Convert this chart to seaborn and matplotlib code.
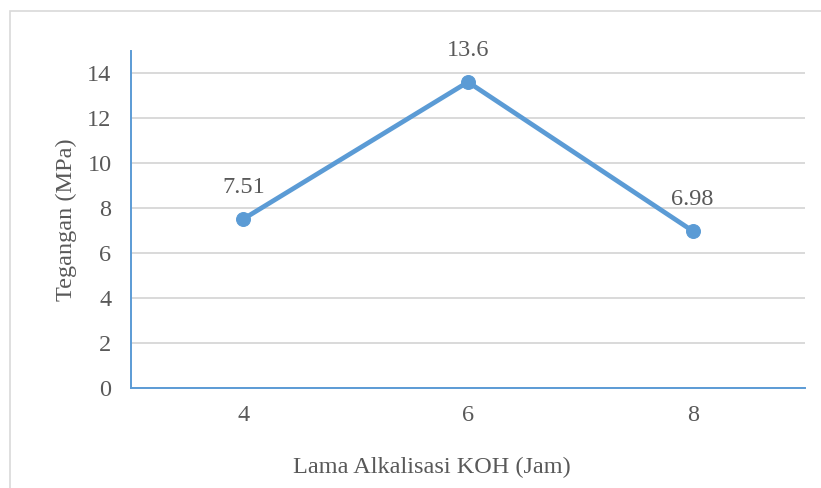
import matplotlib
matplotlib.use("Agg")
import matplotlib.pyplot as plt
import seaborn as sns
import pandas as pd
from matplotlib.patches import Rectangle

durations = [4, 6, 8]
stress = [7.51, 13.6, 6.98]
labels = ["7.51", "13.6", "6.98"]
y_ticks = [0, 2, 4, 6, 8, 10, 12, 14]

sns.set_style("white")
plt.rcParams['font.family'] = ['Liberation Serif', 'DejaVu Serif']

txt = "#595959"
blue = "#5B9BD5"
grid = "#D9D9D9"
fs = 17.5

fig = plt.figure(figsize=(8.21, 4.88), dpi=100)
ax = fig.add_axes([131/821, 1-388/488, (805-131)/821, (388-50.5)/488])

df = pd.DataFrame({"x": durations, "y": stress})
sns.lineplot(data=df, x="x", y="y", ax=ax, color=blue, linewidth=3.4,
             marker="o", markersize=10, markeredgecolor=blue, zorder=3)

for x, y, l in zip(durations, stress, labels):
    ax.annotate(l, (x, y), xytext=(0, 23), textcoords="offset points",
                ha="center", va="center", fontsize=fs, color=txt)

ax.set_xlim(3, 9)
ax.set_ylim(0, 15)
ax.set_yticks(y_ticks)
ax.set_yticklabels([str(t) for t in y_ticks])
ax.yaxis.grid(True, color=grid, linewidth=1.4)
ax.set_axisbelow(True)

ax.set_xticks([3, 5, 7, 9])
ax.set_xticklabels([])
ax.set_xticks(durations, minor=True)
ax.set_xticklabels([str(d) for d in durations], minor=True)
ax.tick_params(axis="x", which="major", length=4, width=1.4, color=blue, direction="out")
ax.tick_params(axis="x", which="minor", length=0, pad=12, labelsize=fs, labelcolor=txt)
ax.tick_params(axis="y", length=0, pad=14, labelsize=fs, labelcolor=txt)

for s in ["top", "right"]:
    ax.spines[s].set_visible(False)
for s in ["left", "bottom"]:
    ax.spines[s].set_color(blue)
    ax.spines[s].set_linewidth(1.4)

ax.set_xlabel("Lama Alkalisasi KOH (Jam)", fontsize=fs, color=txt, labelpad=22)
ax.xaxis.set_label_coords((432-131)/674, -0.205)
ax.set_ylabel("Tegangan (MPa)", fontsize=fs, color=txt, labelpad=7)

fig.patches.append(Rectangle((10/821, -0.1), 1.2, 1.1-11/488, transform=fig.transFigure,
                             fill=False, edgecolor="#D9D9D9", linewidth=1.2))

fig.savefig("out.png", dpi=100)
